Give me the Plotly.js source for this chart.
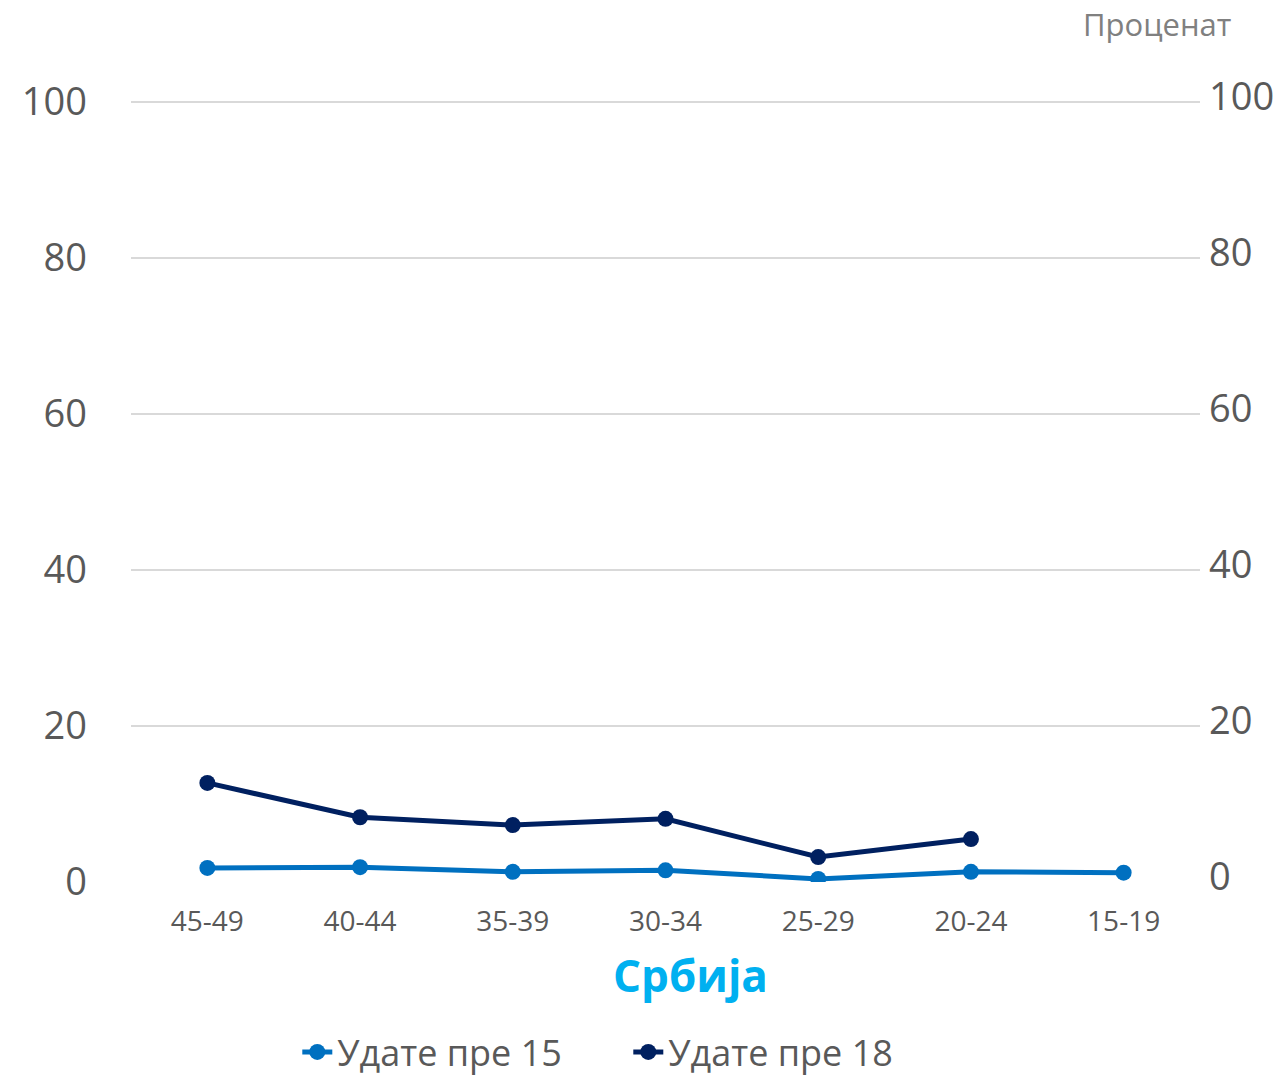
<!DOCTYPE html>
<html>
<head>
<meta charset="utf-8">
<script src="https://cdn.plot.ly/plotly-3.0.1.min.js"></script>
<style>html,body{margin:0;padding:0;background:#fff;}#chart{width:1287px;height:1082px;}</style>
</head>
<body>
<div id="chart"></div>
<script>
const categories = ["45-49", "40-44", "35-39", "30-34", "25-29", "20-24", "15-19"];
const before15 = [1.8, 1.9, 1.3, 1.5, 0.4, 1.3, 1.2];
const before18 = [12.7, 8.3, 7.3, 8.1, 3.2, 5.5, null];
const seriesNames = ["Удате пре 15", "Удате пре 18"];
const yTicks = [0, 20, 40, 60, 80, 100];

const font = "Open Sans, sans-serif";

const traces = [
  {x: categories, y: before15, name: seriesNames[0], type: "scatter", mode: "lines+markers",
   line: {color: "#0070C0", width: 5}, marker: {color: "#0070C0", size: 16}},
  {x: categories, y: before18, name: seriesNames[1], type: "scatter", mode: "lines+markers",
   line: {color: "#002060", width: 5}, marker: {color: "#002060", size: 16}},
  {x: categories, y: before15, yaxis: "y2", type: "scatter", mode: "lines", showlegend: false,
   hoverinfo: "skip", line: {color: "rgba(0,0,0,0)", width: 0}}
];

const layout = {
  width: 1287, height: 1082,
  margin: {l: 131, r: 87, t: 100, b: 200},
  paper_bgcolor: "#fff", plot_bgcolor: "#fff",
  font: {family: font, color: "#595959"},
  showlegend: true,
  xaxis: {
    type: "category", range: [-0.5, 6.5], showgrid: false, zeroline: false,
    showline: false, ticks: "", tickfont: {size: 28, color: "#595959", family: font},
    ticklabelstandoff: 20, automargin: false
  },
  yaxis: {
    range: [0, 100.25], tickvals: yTicks, showgrid: true, gridcolor: "#d9d9d9", gridwidth: 2,
    zeroline: false, showline: false, ticks: "", automargin: false,
    tickfont: {size: 38, color: "#595959", family: font}, ticklabelstandoff: 43
  },
  yaxis2: {
    range: [0, 100.25], tickvals: yTicks, overlaying: "y", side: "right", showgrid: false,
    zeroline: false, showline: false, ticks: "", automargin: false,
    tickfont: {size: 38, color: "#595959", family: font}, ticklabelstandoff: 8, ticklabelshift: -5
  },
  legend: {
    orientation: "h", xref: "container", yref: "container",
    x: 0.231, xanchor: "left", y: 0, yanchor: "bottom",
    font: {size: 36, color: "#595959", family: font}, entrywidth: 286, entrywidthmode: "pixels"
  },
  annotations: [
    {text: "Србија", xref: "paper", yref: "paper", x: 0.523, y: -0.119, showarrow: false,
     xanchor: "center", yanchor: "middle", font: {size: 44, color: "#00B0F0", family: font, weight: "bold"}},
    {text: "Проценат", xref: "paper", yref: "paper", x: 0.96, y: 1.097, showarrow: false,
     xanchor: "center", yanchor: "middle", font: {size: 31, color: "#808080", family: font}}
  ]
};

Plotly.newPlot("chart", traces, layout, {displayModeBar: false, staticPlot: true});
</script>
</body>
</html>
